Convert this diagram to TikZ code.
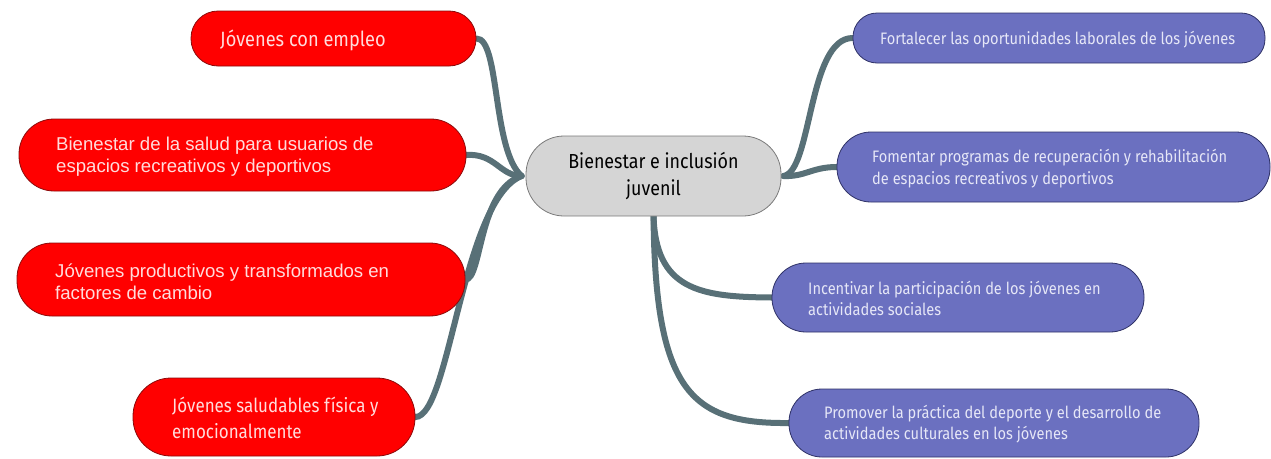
\documentclass[tikz,border=0pt]{standalone}
\usepackage{fontspec}
\setmainfont{Liberation Sans}
\newfontfamily\cond[FakeStretch=0.88]{Fira Sans}
\usetikzlibrary{backgrounds}
\definecolor{redfill}{HTML}{FF0000}
\definecolor{redline}{HTML}{8B0A0A}
\definecolor{redtext}{HTML}{FFDCDC}
\definecolor{purfill}{HTML}{6B70C0}
\definecolor{purline}{HTML}{2E3166}
\definecolor{purtext}{HTML}{E6E7F7}
\definecolor{cfill}{HTML}{D5D5D5}
\definecolor{cline}{HTML}{7A7A7A}
\definecolor{conn}{HTML}{587077}
\tikzset{
  box/.style={draw, inner sep=0pt, line width=0.8pt},
  redbox/.style={box, fill=redfill, draw=redline},
  purbox/.style={box, fill=purfill, draw=purline},
  cbox/.style={box, fill=cfill, draw=cline},
  redtxt/.style={anchor=west, inner sep=0pt, align=left, text=redtext, font=\fontsize{18.6}{22}\selectfont},
  redctxt/.style={anchor=west, inner sep=0pt, align=left, text=redtext, font=\cond\fontsize{20.7}{26}\selectfont},
  purtxt/.style={anchor=west, inner sep=0pt, align=left, text=purtext, font=\cond\fontsize{16.6}{21.5}\selectfont},
  link/.style={draw=conn, line width=6pt, line cap=round}
}
\begin{document}
\begin{tikzpicture}[x=1pt, y=-1pt]
\useasboundingbox (0,0) rectangle (1271,458);
% center
\node[cbox, minimum width=255pt, minimum height=80pt, rounded corners=38pt,
      align=center, font=\cond\fontsize{20.3}{27}\selectfont] (C) at (653.5,176) {Bienestar e inclusión\\juvenil};
% left boxes
\node[redbox, minimum width=285pt, minimum height=55pt, rounded corners=27pt] (L1) at (333.5,38.5) {};
\node[redctxt] (L1t) at (220,40) {Jóvenes con empleo};
\node[redbox, minimum width=447pt, minimum height=72pt, rounded corners=35pt] (L2) at (242.5,155) {};
\node[redtxt] (L2t) at (56,157) {Bienestar de la salud para usuarios de\\espacios recreativos y deportivos};
\node[redbox, minimum width=448pt, minimum height=73pt, rounded corners=35pt] (L3) at (241,279.5) {};
\node[redtxt] (L3t) at (55,282) {Jóvenes productivos y transformados en\\factores de cambio};
\node[redbox, minimum width=282pt, minimum height=78pt, rounded corners=38pt] (L4) at (274,417) {};
\node[redctxt, font=\cond\fontsize{19.3}{26}\selectfont] (L4t) at (172,418) {Jóvenes saludables física y\\emocionalmente};
% right boxes
\node[purbox, minimum width=412pt, minimum height=50pt, rounded corners=24pt] (R1) at (1059,38) {};
\node[purtxt] (R1t) at (880,40) {Fortalecer las oportunidades laborales de los jóvenes};
\node[purbox, minimum width=433pt, minimum height=70pt, rounded corners=34pt] (R2) at (1053.5,167) {};
\node[purtxt] (R2t) at (872,168.5) {Fomentar programas de recuperación y rehabilitación\\de espacios recreativos y deportivos};
\node[purbox, minimum width=372pt, minimum height=69pt, rounded corners=34pt] (R3) at (958,297.5) {};
\node[purtxt] (R3t) at (808,298.5) {Incentivar la participación de los jóvenes en\\actividades sociales};
\node[purbox, minimum width=410pt, minimum height=68pt, rounded corners=33pt] (R4) at (994,423) {};
\node[purtxt] (R4t) at (824,424) {Promover la práctica del deporte y el desarrollo de\\actividades culturales en los jóvenes};
% connectors
\coordinate (CL) at ([xshift=-4pt]C.west);
\coordinate (CR) at ([xshift=2pt]C.east);
\coordinate (CB) at ([yshift=2pt]C.south);
\begin{pgfonlayer}{background}
\path[link] (L1.east) .. controls (500,38) and (492,150) .. (CL);
\path[link] (L2.east) .. controls (495,153) and (500,176) .. (CL);
\path[link] (L3.east) .. controls (482,280) and (478,190) .. (CL);
\path[link] (L4.east) .. controls (450,417) and (462,200) .. (CL);
\path[link] (CR) .. controls (812,172) and (808,38) .. (R1.west);
\path[link] (CR) .. controls (805,177) and (812,167) .. (R2.west);
\path[link] (CB) .. controls (655,290) and (700,297) .. (R3.west);
\path[link] (CB) .. controls (655,390) and (690,424) .. (R4.west);
\end{pgfonlayer}
\end{tikzpicture}
\end{document}
